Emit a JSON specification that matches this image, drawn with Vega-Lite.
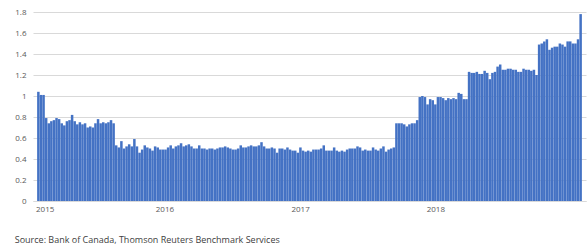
{
  "$schema": "https://vega.github.io/schema/vega-lite/v6.json",
  "width": 553,
  "height": 189,
  "autosize": {"type": "none"},
  "padding": {"left": 33, "top": 12, "right": 2, "bottom": 48},
  "background": "white",
  "config": {"view": {"stroke": null}, "font": "Open Sans"},
  "title": {"text": "Source:  Bank of Canada, Thomson Reuters Benchmark Services", "orient": "bottom", "anchor": "start", "fontSize": 9, "fontWeight": "normal", "color": "#404040", "font": "Open Sans", "offset": 23},
  "data": {"values": [
    {"d":"2015-01-26","v":1.04},{"d":"2015-02-02","v":1.01},{"d":"2015-02-09","v":1.01},{"d":"2015-02-16","v":0.79},{"d":"2015-02-23","v":0.74},
    {"d":"2015-03-02","v":0.76},{"d":"2015-03-09","v":0.77},{"d":"2015-03-16","v":0.79},{"d":"2015-03-23","v":0.78},{"d":"2015-03-30","v":0.74},
    {"d":"2015-04-06","v":0.72},{"d":"2015-04-13","v":0.76},{"d":"2015-04-20","v":0.77},{"d":"2015-04-27","v":0.82},
    {"d":"2015-05-04","v":0.76},{"d":"2015-05-11","v":0.73},{"d":"2015-05-18","v":0.75},{"d":"2015-05-25","v":0.73},
    {"d":"2015-06-01","v":0.74},{"d":"2015-06-08","v":0.70},{"d":"2015-06-15","v":0.71},{"d":"2015-06-22","v":0.70},{"d":"2015-06-29","v":0.74},
    {"d":"2015-07-06","v":0.78},{"d":"2015-07-13","v":0.74},{"d":"2015-07-20","v":0.75},{"d":"2015-07-27","v":0.74},
    {"d":"2015-08-03","v":0.75},{"d":"2015-08-10","v":0.77},{"d":"2015-08-17","v":0.74},{"d":"2015-08-24","v":0.53},{"d":"2015-08-31","v":0.51},
    {"d":"2015-09-07","v":0.57},{"d":"2015-09-14","v":0.50},{"d":"2015-09-21","v":0.52},{"d":"2015-09-28","v":0.54},
    {"d":"2015-10-05","v":0.52},{"d":"2015-10-12","v":0.59},{"d":"2015-10-19","v":0.52},{"d":"2015-10-26","v":0.46},
    {"d":"2015-11-02","v":0.49},{"d":"2015-11-09","v":0.53},{"d":"2015-11-16","v":0.51},{"d":"2015-11-23","v":0.50},{"d":"2015-11-30","v":0.48},
    {"d":"2015-12-07","v":0.52},{"d":"2015-12-14","v":0.51},{"d":"2015-12-21","v":0.49},{"d":"2015-12-28","v":0.49},
    {"d":"2016-01-04","v":0.49},{"d":"2016-01-11","v":0.51},{"d":"2016-01-18","v":0.53},{"d":"2016-01-25","v":0.50},
    {"d":"2016-02-01","v":0.52},{"d":"2016-02-08","v":0.53},{"d":"2016-02-15","v":0.55},{"d":"2016-02-22","v":0.52},{"d":"2016-02-29","v":0.53},
    {"d":"2016-03-07","v":0.54},{"d":"2016-03-14","v":0.52},{"d":"2016-03-21","v":0.50},{"d":"2016-03-28","v":0.50},
    {"d":"2016-04-04","v":0.53},{"d":"2016-04-11","v":0.50},{"d":"2016-04-18","v":0.50},{"d":"2016-04-25","v":0.49},
    {"d":"2016-05-02","v":0.50},{"d":"2016-05-09","v":0.50},{"d":"2016-05-16","v":0.49},{"d":"2016-05-23","v":0.50},{"d":"2016-05-30","v":0.51},
    {"d":"2016-06-06","v":0.51},{"d":"2016-06-13","v":0.52},{"d":"2016-06-20","v":0.51},{"d":"2016-06-27","v":0.50},
    {"d":"2016-07-04","v":0.49},{"d":"2016-07-11","v":0.49},{"d":"2016-07-18","v":0.50},{"d":"2016-07-25","v":0.53},
    {"d":"2016-08-01","v":0.51},{"d":"2016-08-08","v":0.51},{"d":"2016-08-15","v":0.52},{"d":"2016-08-22","v":0.53},{"d":"2016-08-29","v":0.52},
    {"d":"2016-09-05","v":0.52},{"d":"2016-09-12","v":0.53},{"d":"2016-09-19","v":0.56},{"d":"2016-09-26","v":0.52},
    {"d":"2016-10-03","v":0.50},{"d":"2016-10-10","v":0.50},{"d":"2016-10-17","v":0.51},{"d":"2016-10-24","v":0.50},{"d":"2016-10-31","v":0.46},
    {"d":"2016-11-07","v":0.50},{"d":"2016-11-14","v":0.50},{"d":"2016-11-21","v":0.49},{"d":"2016-11-28","v":0.51},
    {"d":"2016-12-05","v":0.49},{"d":"2016-12-12","v":0.48},{"d":"2016-12-19","v":0.48},{"d":"2016-12-26","v":0.46},
    {"d":"2017-01-02","v":0.51},{"d":"2017-01-09","v":0.48},{"d":"2017-01-16","v":0.47},{"d":"2017-01-23","v":0.48},{"d":"2017-01-30","v":0.47},
    {"d":"2017-02-06","v":0.49},{"d":"2017-02-13","v":0.49},{"d":"2017-02-20","v":0.49},{"d":"2017-02-27","v":0.50},
    {"d":"2017-03-06","v":0.53},{"d":"2017-03-13","v":0.48},{"d":"2017-03-20","v":0.48},{"d":"2017-03-27","v":0.48},
    {"d":"2017-04-03","v":0.51},{"d":"2017-04-10","v":0.48},{"d":"2017-04-17","v":0.47},{"d":"2017-04-24","v":0.48},
    {"d":"2017-05-01","v":0.47},{"d":"2017-05-08","v":0.49},{"d":"2017-05-15","v":0.50},{"d":"2017-05-22","v":0.50},{"d":"2017-05-29","v":0.50},
    {"d":"2017-06-05","v":0.52},{"d":"2017-06-12","v":0.51},{"d":"2017-06-19","v":0.48},{"d":"2017-06-26","v":0.49},
    {"d":"2017-07-03","v":0.48},{"d":"2017-07-10","v":0.48},{"d":"2017-07-17","v":0.51},{"d":"2017-07-24","v":0.49},{"d":"2017-07-31","v":0.48},
    {"d":"2017-08-07","v":0.50},{"d":"2017-08-14","v":0.52},{"d":"2017-08-21","v":0.47},{"d":"2017-08-28","v":0.49},
    {"d":"2017-09-04","v":0.50},{"d":"2017-09-11","v":0.51},{"d":"2017-09-18","v":0.74},{"d":"2017-09-25","v":0.74},
    {"d":"2017-10-02","v":0.74},{"d":"2017-10-09","v":0.73},{"d":"2017-10-16","v":0.71},{"d":"2017-10-23","v":0.73},{"d":"2017-10-30","v":0.74},
    {"d":"2017-11-06","v":0.74},{"d":"2017-11-13","v":0.77},{"d":"2017-11-20","v":0.99},{"d":"2017-11-27","v":1.00},
    {"d":"2017-12-04","v":0.99},{"d":"2017-12-11","v":0.92},{"d":"2017-12-18","v":0.97},{"d":"2017-12-25","v":0.96},
    {"d":"2018-01-01","v":0.92},{"d":"2018-01-08","v":0.99},{"d":"2018-01-15","v":0.99},{"d":"2018-01-22","v":0.98},{"d":"2018-01-29","v":0.96},
    {"d":"2018-02-05","v":0.98},{"d":"2018-02-12","v":0.97},{"d":"2018-02-19","v":0.98},{"d":"2018-02-26","v":0.97},
    {"d":"2018-03-05","v":1.03},{"d":"2018-03-12","v":1.02},{"d":"2018-03-19","v":0.97},{"d":"2018-03-26","v":0.97},
    {"d":"2018-04-02","v":1.23},{"d":"2018-04-09","v":1.22},{"d":"2018-04-16","v":1.22},{"d":"2018-04-23","v":1.23},{"d":"2018-04-30","v":1.21},
    {"d":"2018-05-07","v":1.21},{"d":"2018-05-14","v":1.24},{"d":"2018-05-21","v":1.22},{"d":"2018-05-28","v":1.16},
    {"d":"2018-06-04","v":1.22},{"d":"2018-06-11","v":1.23},{"d":"2018-06-18","v":1.28},{"d":"2018-06-25","v":1.30},
    {"d":"2018-07-02","v":1.25},{"d":"2018-07-09","v":1.25},{"d":"2018-07-16","v":1.26},{"d":"2018-07-23","v":1.26},{"d":"2018-07-30","v":1.25},
    {"d":"2018-08-06","v":1.25},{"d":"2018-08-13","v":1.23},{"d":"2018-08-20","v":1.23},{"d":"2018-08-27","v":1.26},
    {"d":"2018-09-03","v":1.25},{"d":"2018-09-10","v":1.25},{"d":"2018-09-17","v":1.24},{"d":"2018-09-24","v":1.25},
    {"d":"2018-10-01","v":1.20},{"d":"2018-10-08","v":1.49},{"d":"2018-10-15","v":1.50},{"d":"2018-10-22","v":1.52},{"d":"2018-10-29","v":1.54},
    {"d":"2018-11-05","v":1.44},{"d":"2018-11-12","v":1.46},{"d":"2018-11-19","v":1.47},{"d":"2018-11-26","v":1.47},
    {"d":"2018-12-03","v":1.50},{"d":"2018-12-10","v":1.49},{"d":"2018-12-17","v":1.47},{"d":"2018-12-24","v":1.52},{"d":"2018-12-31","v":1.52},
    {"d":"2019-01-07","v":1.50},{"d":"2019-01-14","v":1.50},{"d":"2019-01-21","v":1.54},{"d":"2019-01-28","v":1.78}
  ]},
  "mark": {"type": "bar", "color": "#4472C4", "size": 2.5, "clip": true},
  "encoding": {
    "x": {
      "field": "d", "type": "temporal",
      "scale": {"domain": [{"year": 2015, "month": 1, "date": 25}, {"year": 2019, "month": 1, "date": 29}]},
      "axis": {
        "title": null, "grid": false, "ticks": false, "format": "%Y",
        "values": [{"year": 2015, "month": 2, "date": 12}, {"year": 2016, "month": 1, "date": 1}, {"year": 2017, "month": 1, "date": 1}, {"year": 2018, "month": 1, "date": 1}],
        "domainColor": "#d9d9d9", "labelColor": "#595959", "labelFontSize": 8, "labelPadding": 4, "labelFont": "Open Sans"
      }
    },
    "y": {
      "field": "v", "type": "quantitative",
      "scale": {"domain": [0, 1.8], "nice": false},
      "axis": {
        "title": null, "values": [0, 0.2, 0.4, 0.6, 0.8, 1, 1.2, 1.4, 1.6, 1.8], "format": "~g",
        "domain": false, "ticks": false, "gridColor": "#d9d9d9", "labelColor": "#595959",
        "labelFontSize": 8, "labelPadding": 7, "labelFont": "Open Sans"
      }
    }
  }
}
